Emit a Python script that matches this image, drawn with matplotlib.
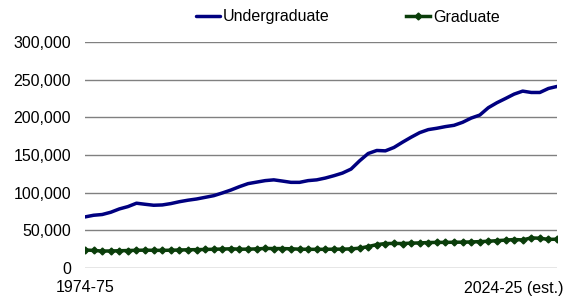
import numpy as np
import matplotlib
matplotlib.use("Agg")
import matplotlib.pyplot as plt
import matplotlib.transforms as mtransforms

plt.rcParams["font.family"] = ["Liberation Sans", "DejaVu Sans"]

# ---------- data (thousands of students) ----------
undergrad_k = [67.8, 70.0, 71.0, 74.0, 78.4, 81.5, 86.0, 84.6, 83.3, 83.7,
               85.5, 88.0, 90.0, 91.6, 93.8, 96.0, 99.6, 103.5, 108.0, 112.0,
               114.0, 116.0, 117.0, 115.4, 113.7, 113.7, 116.0, 117.0, 119.4, 122.5,
               126.0, 131.3, 142.3, 152.0, 156.0, 155.5, 160.0, 167.0, 173.6, 179.7,
               183.7, 185.5, 187.7, 189.4, 193.4, 199.0, 203.0, 212.8, 219.4, 225.0,
               230.8, 234.8, 233.0, 233.0, 238.3, 241.0]
graduate_k = [24.0, 23.3, 22.5, 22.6, 22.9, 23.2, 23.5, 23.7, 23.5, 23.4,
              23.6, 23.9, 24.2, 24.4, 24.6, 24.9, 25.2, 25.5, 25.0, 25.0,
              25.4, 26.0, 25.8, 25.8, 25.5, 25.0, 24.8, 24.8, 24.8, 25.0,
              25.0, 25.4, 26.3, 28.5, 31.0, 32.5, 32.6, 32.5, 33.0, 33.3,
              33.8, 34.0, 34.0, 34.2, 34.3, 34.6, 35.0, 35.5, 36.3, 37.0,
              37.8, 37.3, 40.0, 39.5, 38.0, 38.2]
first_label = "1974-75"
last_label = "2024-25 (est.)"
series_names = ["Undergraduate", "Graduate"]

undergrad = np.array(undergrad_k) * 1000
graduate = np.array(graduate_k) * 1000
x = np.arange(len(undergrad))

# ---------- figure ----------
fig = plt.figure(figsize=(5.65, 2.97), dpi=100)
ax = fig.add_axes([85 / 565, 1 - 268 / 297, 472 / 565, 226 / 297])

ax.plot(x, undergrad, color="#000080", lw=2.5, label=series_names[0],
        solid_capstyle="round", zorder=3)
ax.plot(x, graduate, color="#0a3d0a", lw=2.5, marker="D", ms=3.5,
        label=series_names[1], zorder=3)

ax.set_xlim(0, len(x) - 1)
ax.set_ylim(0, 300000)
ax.set_yticks(np.arange(0, 300001, 50000))
ax.yaxis.set_major_formatter(matplotlib.ticker.FuncFormatter(lambda v, p: f"{int(v):,}"))
ax.grid(axis="y", color="#808080", lw=1.0, zorder=1)
ax.set_axisbelow(True)
for s in ax.spines.values():
    s.set_visible(False)

ax.set_xticks([0, len(x) - 1])
ax.set_xticklabels([first_label, last_label])
ax.tick_params(axis="both", length=0, labelsize=11.5, colors="#000000")
ax.tick_params(axis="y", pad=10)
ax.tick_params(axis="x", pad=9)
lbl = ax.get_xticklabels()[-1]
lbl.set_horizontalalignment("right")
lbl.set_transform(lbl.get_transform() + mtransforms.ScaledTranslation(6 / 100, 0, fig.dpi_scale_trans))

fig.legend(loc="center", bbox_to_anchor=(348 / 565, 1 - 17 / 297), ncol=2,
           frameon=False, fontsize=11.5, handlelength=1.5, handletextpad=0.2,
           columnspacing=4.8, numpoints=1)

fig.savefig("out.png", dpi=100)
